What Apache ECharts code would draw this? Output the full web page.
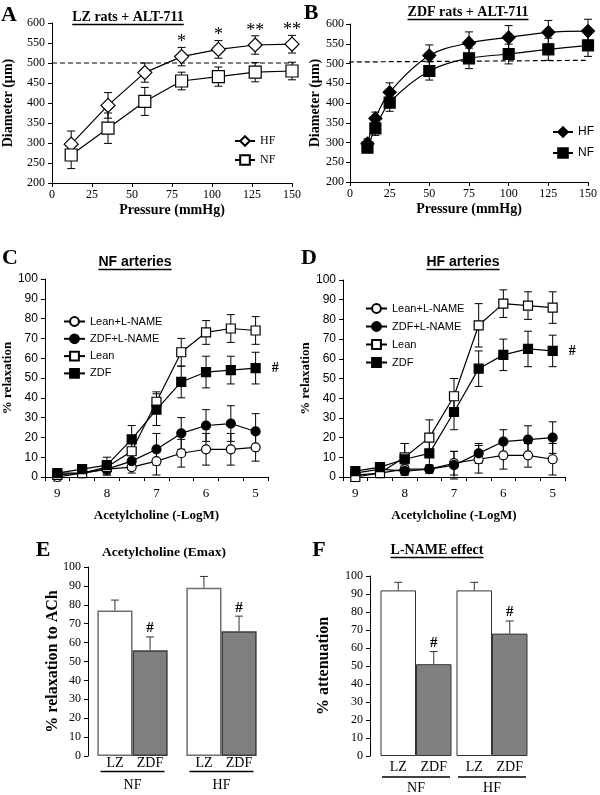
<!DOCTYPE html>
<html><head><meta charset="utf-8">
<script src="https://cdn.jsdelivr.net/npm/echarts@6/dist/echarts.min.js"></script>
<style>html,body{margin:0;padding:0;background:#fff}#c{width:600px;height:795px}</style>
</head><body><div id="c"></div>
<script>
// ---------- Panel A: LZ rats + ALT-711 ----------
const aPressure = [12, 35, 58, 81, 104, 127, 150];
const aHF = [297, 394, 476, 516, 534, 545, 547];
const aHFerr = [33, 32, 24, 23, 22, 23, 22];
const aNF = [270, 337, 404, 455, 466, 477, 480];
const aNFerr = [34, 38, 35, 22, 24, 24, 22];
const aSig = ['', '', '', '*', '*', '**', '**'];
const aRefLine = [[0, 500], [155, 500]];
// ---------- Panel B: ZDF rats + ALT-711 ----------
const bPressure = [11, 16, 25, 50, 75, 100, 125, 150];
const bHF = [297, 361, 427, 520, 552, 566, 579, 582];
const bHFerr = [12, 16, 24, 27, 28, 30, 30, 30];
const bNF = [287, 336, 401, 481, 513, 524, 536, 546];
const bNFerr = [10, 18, 22, 23, 26, 25, 28, 28];
const bRefLine = [[-31, 503], [150, 508]];
// ---------- Panels C/D: ACh dose (-LogM) ----------
const doses = ['9', '8.5', '8', '7.5', '7', '6.5', '6', '5.5', '5'];
const cLeanLN = [0, 2, 4, 5, 8, 12, 14, 14, 15];
const cLeanLNerr = [2, 2, 3, 3, 7, 7, 8, 8, 7];
const cZdfLN = [2, 2, 4, 8, 14, 22, 26, 27, 23];
const cZdfLNerr = [2, 2, 3, 4, 8, 8, 8, 9, 9];
const cLean = [1, 2, 5, 13, 38, 63, 73, 75, 74];
const cLeanErr = [2, 2, 3, 5, 5, 7, 6, 7, 7];
const cZdf = [2, 4, 6, 19, 34, 48, 53, 54, 55];
const cZdfErr = [2, 2, 4, 7, 8, 8, 8, 7, 8];
const dLeanLN = [1, 2, 4, 4, 7, 9, 11, 11, 9];
const dLeanLNerr = [2, 2, 2, 2, 6, 7, 7, 6, 8];
const dZdfLN = [2, 4, 3, 4, 6, 12, 18, 19, 20];
const dZdfLNerr = [2, 2, 2, 2, 7, 5, 6, 7, 8];
const dLean = [0, 2, 10, 20, 41, 77, 88, 87, 86];
const dLeanErr = [1, 2, 7, 9, 9, 11, 7, 7, 8];
const dZdf = [3, 5, 9, 12, 33, 55, 62, 65, 64];
const dZdfErr = [2, 2, 8, 6, 9, 9, 8, 9, 8];
// ---------- Panel E: Acetylcholine (Emax) ----------
const groups = ['NF', 'HF'];
const eLZ = [77, 89];
const eLZerr = [5.5, 6];
const eZDF = [56, 66];
const eZDFerr = [7, 8];
const eSig = ['#', '#'];
// ---------- Panel F: L-NAME effect ----------
const fLZ = [92, 92];
const fLZerr = [4.5, 4.5];
const fZDF = [51, 68];
const fZDFerr = [7, 7];
const fSig = ['#', '#'];

const SERIF = "'Liberation Serif','Times New Roman',serif";
const SANS = "'Liberation Sans',Arial,sans-serif";
const BLACK = '#000';

function pairs(xs, ys) { return xs.map((x, i) => [x, ys[i]]); }
function errData(xs, ys, es, both) {
  return xs.map((x, i) => [x, both ? ys[i] - es[i] : ys[i], ys[i] + es[i]]);
}
function makeErr(o) {
  return function (params, api) {
    const i = params.dataIndex;
    const x = api.value(0), lo = api.value(1), hi = api.value(2);
    const t = api.coord([x, hi]), b = api.coord([x, lo]);
    let cx = t[0];
    if (o.shift) cx += o.shift(api);
    const st = { stroke: o.color || BLACK, lineWidth: o.width || 1 };
    const ch = [
      { type: 'line', shape: { x1: cx, y1: t[1], x2: cx, y2: b[1] }, style: st },
      { type: 'line', shape: { x1: cx - o.cap, y1: t[1], x2: cx + o.cap, y2: t[1] }, style: st }
    ];
    if (o.both) ch.push({ type: 'line', shape: { x1: cx - o.cap, y1: b[1], x2: cx + o.cap, y2: b[1] }, style: st });
    if (o.marks && o.marks[i]) ch.push({ type: 'text', style: { text: o.marks[i], x: cx, y: t[1] - o.markGap, align: 'center', verticalAlign: 'bottom', font: o.markFont, fill: BLACK } });
    return { type: 'group', children: ch };
  };
}
function errSeries(idx, data, o) {
  return { type: 'custom', xAxisIndex: idx, yAxisIndex: idx, data: data, renderItem: makeErr(o), encode: { x: 0, y: [1, 2] }, z: 1, silent: true };
}
function refLine(idx, data) {
  return { type: 'line', xAxisIndex: idx, yAxisIndex: idx, data: data, clip: false, symbol: 'none', silent: true, z: 0,
    lineStyle: { type: [5, 3], color: BLACK, width: 1.2 } };
}

const axLine = { show: true, lineStyle: { color: BLACK, width: 1 } };
const axTick = { show: true, length: 4, lineStyle: { color: BLACK } };

function valueX(idx, name) {
  return { gridIndex: idx, type: 'value', min: 0, max: 150, interval: 25, axisLine: axLine, axisTick: axTick, splitLine: { show: false },
    axisLabel: { fontFamily: SERIF, fontSize: 12, color: BLACK, margin: 6 },
    name: name, nameLocation: 'middle', nameGap: 20, nameTextStyle: { fontFamily: SERIF, fontWeight: 'bold', fontSize: 14, color: BLACK } };
}
function valueY(idx, min, max, step, name, gap, font, lfs, extra) {
  return Object.assign({ gridIndex: idx, type: 'value', min: min, max: max, interval: step, axisLine: axLine, axisTick: axTick, splitLine: { show: false },
    axisLabel: { fontFamily: font, fontSize: lfs, color: BLACK, margin: 7 },
    name: name, nameLocation: 'middle', nameGap: gap, nameTextStyle: { fontFamily: SERIF, fontWeight: 'bold', fontSize: 14, color: BLACK } }, extra || {});
}
function doseX(idx) {
  return { gridIndex: idx, type: 'category', data: doses, boundaryGap: true, axisLine: axLine,
    axisTick: { show: true, length: 4, interval: 0, lineStyle: { color: BLACK } },
    axisLabel: { interval: 0, fontFamily: SERIF, fontSize: 13, color: BLACK, margin: 10, formatter: v => (String(v).indexOf('.') < 0 ? v : '') },
    name: 'Acetylcholine (-LogM)', nameLocation: 'middle', nameGap: 32, nameTextStyle: { fontFamily: SERIF, fontWeight: 'bold', fontSize: 13, color: BLACK } };
}
function groupX(idx, bw, ulw, lh) {
  return { gridIndex: idx, type: 'category', data: groups, axisLine: { show: false }, axisTick: { show: false },
    axisLabel: { interval: 0, margin: lh[0], color: BLACK, formatter: v => '{g|LZ}{g|ZDF}\n{u| }\n{n|' + v + '}',
      rich: { g: { width: bw, align: 'center', fontFamily: SERIF, fontSize: 14, color: BLACK, lineHeight: lh[1] },
        u: { width: ulw, height: 1.5, backgroundColor: BLACK, lineHeight: lh[2], fontSize: 1 },
        n: { fontFamily: SERIF, fontSize: 14, color: BLACK, lineHeight: lh[3], align: 'center' } } } };
}

function lineS(idx, name, data, symbol, size, fill, extra) {
  return Object.assign({ type: 'line', name: name, xAxisIndex: idx, yAxisIndex: idx, data: data, symbol: symbol, symbolSize: size,
    showAllSymbol: true, lineStyle: { color: BLACK, width: 1.2 }, itemStyle: { color: fill, borderColor: BLACK, borderWidth: 1.2 }, z: 3, animation: false }, extra || {});
}

const hashLabel = { show: true, position: 'right', distance: 11, fontFamily: SERIF, fontWeight: 'bold', fontSize: 14, color: BLACK,
  formatter: p => (p.dataIndex === doses.length - 1 ? '#' : '') };

// bar helpers
const eGap = 0.21, fGap = 0.066;
function barShift(gap, sign) { return api => sign * api.size([1, 0])[0] * (1 - gap) / 4; }

const series = [
  // A
  refLine(0, aRefLine),
  errSeries(0, errData(aPressure, aHF, aHFerr, true), { cap: 4, both: true, marks: aSig, markGap: -4, markFont: '18px ' + SERIF }),
  errSeries(0, errData(aPressure, aNF, aNFerr, true), { cap: 4, both: true }),
  lineS(0, 'A:HF', pairs(aPressure, aHF), 'diamond', 14, '#fff'),
  lineS(0, 'A:NF', pairs(aPressure, aNF), 'rect', 12, '#fff'),
  // B
  refLine(1, bRefLine),
  errSeries(1, errData(bPressure, bHF, bHFerr, true), { cap: 4, both: true }),
  errSeries(1, errData(bPressure, bNF, bNFerr, true), { cap: 4, both: true }),
  lineS(1, 'B:HF', pairs(bPressure, bHF), 'diamond', 13, BLACK, { smooth: 0.35 }),
  lineS(1, 'B:NF', pairs(bPressure, bNF), 'rect', 11, BLACK, { smooth: 0.35 }),
  // C
  errSeries(2, errData(doses, cLeanLN, cLeanLNerr, true), { cap: 4, both: true }),
  errSeries(2, errData(doses, cZdfLN, cZdfLNerr, true), { cap: 4, both: true }),
  errSeries(2, errData(doses, cLean, cLeanErr, true), { cap: 4, both: true }),
  errSeries(2, errData(doses, cZdf, cZdfErr, true), { cap: 4, both: true }),
  lineS(2, 'C:Lean+L-NAME', cLeanLN, 'circle', 9, '#fff'),
  lineS(2, 'C:ZDF+L-NAME', cZdfLN, 'circle', 9, BLACK),
  lineS(2, 'C:Lean', cLean, 'rect', 9, '#fff'),
  lineS(2, 'C:ZDF', cZdf, 'rect', 9, BLACK, { label: hashLabel }),
  // D
  errSeries(3, errData(doses, dLeanLN, dLeanLNerr, true), { cap: 4, both: true }),
  errSeries(3, errData(doses, dZdfLN, dZdfLNerr, true), { cap: 4, both: true }),
  errSeries(3, errData(doses, dLean, dLeanErr, true), { cap: 4, both: true }),
  errSeries(3, errData(doses, dZdf, dZdfErr, true), { cap: 4, both: true }),
  lineS(3, 'D:Lean+L-NAME', dLeanLN, 'circle', 9, '#fff'),
  lineS(3, 'D:ZDF+L-NAME', dZdfLN, 'circle', 9, BLACK),
  lineS(3, 'D:Lean', dLean, 'rect', 9, '#fff'),
  lineS(3, 'D:ZDF', dZdf, 'rect', 9, BLACK, { label: hashLabel }),
  // E
  { type: 'bar', name: 'E:LZ', xAxisIndex: 4, yAxisIndex: 4, data: eLZ, barGap: '0%', barCategoryGap: (eGap * 100) + '%',
    itemStyle: { color: '#fff', borderColor: '#6e6e6e', borderWidth: 1.5 }, z: 2, animation: false },
  { type: 'bar', name: 'E:ZDF', xAxisIndex: 4, yAxisIndex: 4, data: eZDF, barGap: '0%', barCategoryGap: (eGap * 100) + '%',
    itemStyle: { color: '#7f7f7f', borderColor: '#3c3c3c', borderWidth: 1.5 }, z: 2, animation: false },
  errSeries(4, errData(groups, eLZ, eLZerr, false), { cap: 4, color: '#333', shift: barShift(eGap, -1) }),
  errSeries(4, errData(groups, eZDF, eZDFerr, false), { cap: 4, color: '#333', shift: barShift(eGap, 1), marks: eSig, markGap: 1, markFont: 'bold 15px ' + SERIF }),
  // F
  { type: 'bar', name: 'F:LZ', xAxisIndex: 5, yAxisIndex: 5, data: fLZ, barGap: '0%', barCategoryGap: (fGap * 100) + '%',
    itemStyle: { color: '#fff', borderColor: '#333', borderWidth: 1 }, z: 2, animation: false },
  { type: 'bar', name: 'F:ZDF', xAxisIndex: 5, yAxisIndex: 5, data: fZDF, barGap: '0%', barCategoryGap: (fGap * 100) + '%',
    itemStyle: { color: '#808080', borderColor: '#333', borderWidth: 1 }, z: 2, animation: false },
  errSeries(5, errData(groups, fLZ, fLZerr, false), { cap: 4, color: '#333', shift: barShift(fGap, -1) }),
  errSeries(5, errData(groups, fZDF, fZDFerr, false), { cap: 4, color: '#333', shift: barShift(fGap, 1), marks: fSig, markGap: 1, markFont: 'bold 15px ' + SERIF })
];
series.forEach(s => { s.animation = false; });

// text measurement for underlines
const mctx = document.createElement('canvas').getContext('2d');
function titleEl(text, cx, cy, font, underline) {
  mctx.font = font;
  const w = mctx.measureText(text).width;
  const els = [{ type: 'text', x: cx, y: cy, style: { text: text, font: font, fill: BLACK, align: 'center', verticalAlign: 'middle' } }];
  if (underline) {
    const fs = parseFloat(font.match(/(\d+(\.\d+)?)px/)[1]);
    const uy = cy + fs * 0.5 + 0.5;
    els.push({ type: 'line', shape: { x1: cx - w / 2, y1: uy, x2: cx + w / 2, y2: uy }, style: { stroke: BLACK, lineWidth: 1.3 } });
  }
  return els;
}
const letterFont = 'bold 22px ' + SERIF;
const graphics = [].concat(
  titleEl('A', 9, 15, letterFont, false),
  titleEl('B', 311, 13, letterFont, false),
  titleEl('C', 10, 258, letterFont, false),
  titleEl('D', 309, 258, letterFont, false),
  titleEl('E', 43, 550, letterFont, false),
  titleEl('F', 319, 550, letterFont, false),
  titleEl('LZ rats + ALT-711', 128, 17, 'bold 14px ' + SERIF, true),
  titleEl('ZDF rats + ALT-711', 468, 12, 'bold 14px ' + SERIF, true),
  titleEl('NF arteries', 135, 262, 'bold 14px ' + SANS, true),
  titleEl('HF arteries', 463, 262, 'bold 14px ' + SANS, true),
  titleEl('Acetylcholine (Emax)', 164, 553, 'bold 13.5px ' + SERIF, false),
  titleEl('L-NAME effect', 437, 550, 'bold 14px ' + SERIF, true)
);

const legendBase = { orient: 'vertical', selectedMode: false, formatter: n => n.split(':')[1], padding: 0 };
const option = {
  backgroundColor: '#fff',
  animation: false,
  grid: [
    { left: 52, top: 23, width: 240, height: 160 },
    { left: 350, top: 24, width: 240, height: 158 },
    { left: 43, top: 279, width: 225, height: 198 },
    { left: 343, top: 280, width: 222, height: 197 },
    { left: 88, top: 567, width: 178, height: 189 },
    { left: 378, top: 576, width: 152, height: 180 }
  ],
  xAxis: [
    valueX(0, 'Pressure (mmHg)'),
    valueX(1, 'Pressure (mmHg)'),
    doseX(2),
    doseX(3),
    groupX(4, 35, 64, [1, 13, 3, 24]),
    groupX(5, 35.5, 68, [4, 14, 6, 16])
  ],
  yAxis: [
    valueY(0, 200, 600, 50, 'Diameter (µm)', 37, SERIF, 12),
    valueY(1, 200, 600, 50, 'Diameter (µm)', 28, SERIF, 12, { axisLabel: { fontFamily: SERIF, fontSize: 12, color: BLACK, margin: 6 } }),
    valueY(2, 0, 100, 10, '% relaxation', 27, SANS, 12, { nameTextStyle: { fontFamily: SERIF, fontWeight: 'bold', fontSize: 13, color: BLACK } }),
    valueY(3, 0, 100, 10, '% relaxation', 27, SANS, 12, { nameTextStyle: { fontFamily: SERIF, fontWeight: 'bold', fontSize: 13, color: BLACK } }),
    valueY(4, 0, 100, 10, '% relaxation to ACh', 27, SERIF, 12, { nameMoveOverlap: false, nameTextStyle: { fontFamily: SERIF, fontWeight: 'bold', fontSize: 16, color: BLACK } }),
    valueY(5, 0, 100, 10, '% attenuation', 38, SERIF, 12, { offset: 8, nameTextStyle: { fontFamily: SERIF, fontWeight: 'bold', fontSize: 16, color: BLACK } })
  ],
  legend: [
    Object.assign({}, legendBase, { data: ['A:HF', 'A:NF'], left: 234, top: 135, itemWidth: 20, itemHeight: 12, itemGap: 7, textStyle: { fontFamily: SERIF, fontSize: 12, color: BLACK } }),
    Object.assign({}, legendBase, { data: ['B:HF', 'B:NF'], left: 552, top: 126, itemWidth: 20, itemHeight: 12, itemGap: 9, textStyle: { fontFamily: SANS, fontSize: 12, color: BLACK } }),
    Object.assign({}, legendBase, { data: ['C:Lean+L-NAME', 'C:ZDF+L-NAME', 'C:Lean', 'C:ZDF'], left: 63, top: 316, itemWidth: 21, itemHeight: 11, itemGap: 6.3, textStyle: { fontFamily: SANS, fontSize: 11, color: BLACK } }),
    Object.assign({}, legendBase, { data: ['D:Lean+L-NAME', 'D:ZDF+L-NAME', 'D:Lean', 'D:ZDF'], left: 365, top: 303, itemWidth: 21, itemHeight: 11, itemGap: 7, textStyle: { fontFamily: SANS, fontSize: 11, color: BLACK } })
  ],
  graphic: graphics,
  series: series
};
const chart = echarts.init(document.getElementById('c'), null, { renderer: 'canvas' });
chart.setOption(option);
</script></body></html>
